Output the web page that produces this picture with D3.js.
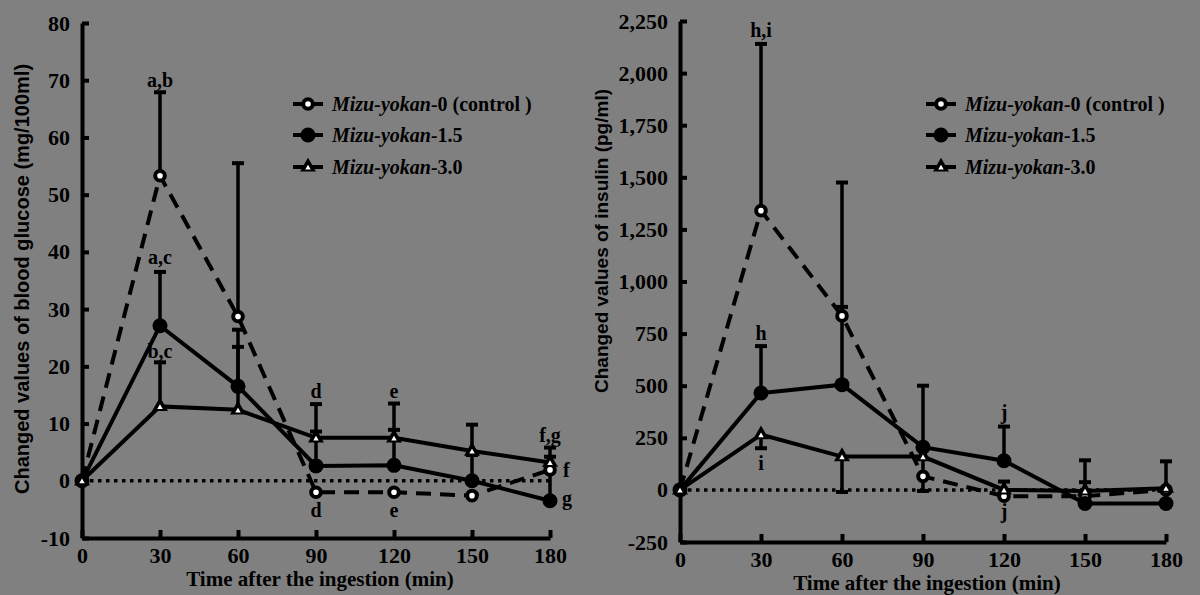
<!DOCTYPE html>
<html>
<head>
<meta charset="utf-8">
<script src="https://cdnjs.cloudflare.com/ajax/libs/d3/7.8.5/d3.min.js"></script>
<style>
  body { margin: 0; background: #808080; }
  svg { display: block; }
</style>
</head>
<body>
<svg id="chart"></svg>
<script>
// sampling times (min)
var times = [0, 30, 60, 90, 120, 150, 180];

// changed blood glucose (mg/100ml); err = signed length of the drawn error bar
var glucoseCtrl = [0, 53.3, 28.7, -2.0, -2.0, -2.6, 1.9];
var glucoseCtrlErr = [0, 14.6, 26.8, 0, 0, 0, 0];
var glucose15 = [0, 27.1, 16.5, 2.6, 2.7, 0.0, -3.5];
var glucose15Err = [0, 9.4, 9.9, 6.0, 6.2, 4.5, 7.7];
var glucose30 = [0, 13.0, 12.4, 7.5, 7.5, 5.2, 3.2];
var glucose30Err = [0, 7.7, 11.0, 5.9, 6.0, 4.6, 2.6];
var glucoseTicks = [-10, 0, 10, 20, 30, 40, 50, 60, 70, 80];
var glucoseNotes = [
  {t: 30, v: 68.8, label: "a,b"},
  {t: 30, v: 37.9, label: "a,c"},
  {t: 30, v: 21.5, label: "b,c"},
  {t: 90, v: 14.4, label: "d"},
  {t: 90, v: -6.3, label: "d"},
  {t: 120, v: 14.4, label: "e"},
  {t: 120, v: -6.3, label: "e"},
  {t: 180, v: 6.8, label: "f,g"},
  {t: 186.3, v: 0.7, label: "f"},
  {t: 186.5, v: -4.2, label: "g"}
];

// changed insulin (pg/ml)
var insulinCtrl = [0, 1340, 835, 65, -30, -30, 0];
var insulinCtrlErr = [0, 800, 640, 0, 0, 0, 0];
var insulin15 = [0, 465, 505, 205, 140, -65, -65];
var insulin15Err = [0, 225, 373, 295, 164, 207, 202];
var insulin30 = [0, 265, 160, 160, 0, -5, 8];
var insulin30Err = [0, -65, -170, -165, 40, 42, 0];
var insulinTicks = [-250, 0, 250, 500, 750, 1000, 1250, 1500, 1750, 2000, 2250];
var insulinNotes = [
  {t: 30, v: 2173, label: "h,i"},
  {t: 30, v: 719, label: "h"},
  {t: 30, v: 95, label: "i"},
  {t: 120, v: 340, label: "j"},
  {t: 120, v: -135, label: "j"}
];

var timeTicks = [0, 30, 60, 90, 120, 150, 180];
var seriesNames = ["Mizu-yokan-", "Mizu-yokan-", "Mizu-yokan-"];
var seriesSuffix = ["0 (control )", "1.5", "3.0"];
var seriesKinds = ["open", "filled", "tri"];

var width = 1200, height = 595;
var serif = "'Liberation Serif', 'Times New Roman', serif";
var sans = "'Liberation Sans', Arial, sans-serif";
var fmt = d3.formatLocale({decimal: ".", thousands: ",", grouping: [3], currency: ["", ""], minus: "-"}).format(",");

var svg = d3.select("#chart").attr("width", width).attr("height", height);
svg.append("rect").attr("width", width).attr("height", height).attr("fill", "#808080");

function drawMarker(g, kind, x, y) {
  if (kind == "open") {
    g.append("circle").attr("cx", x).attr("cy", y).attr("r", 4.8)
      .attr("fill", "#fff").attr("stroke", "#000").attr("stroke-width", 4);
  } else if (kind == "filled") {
    g.append("circle").attr("cx", x).attr("cy", y).attr("r", 7.5).attr("fill", "#000");
  } else {
    g.append("path").attr("d", d3.symbol(d3.symbolTriangle, 16 * 16 * Math.sqrt(3) / 4)())
      .attr("transform", "translate(" + x + "," + y + ")").attr("fill", "#000");
    g.append("path").attr("d", d3.symbol(d3.symbolTriangle, 5.5 * 5.5 * Math.sqrt(3) / 4)())
      .attr("transform", "translate(" + x + "," + (y + 1) + ")").attr("fill", "#fff");
  }
}

function drawPanel(cfg) {
  var x = d3.scaleLinear().domain([0, 180]).range(cfg.xRange);
  var y = d3.scaleLinear().domain(cfg.yDomain).range(cfg.yRange);
  var g = svg.append("g");

  // zero line
  g.append("line")
    .attr("x1", x(0)).attr("x2", x(180)).attr("y1", y(0)).attr("y2", y(0))
    .attr("stroke", "#000").attr("stroke-width", 3.5).attr("stroke-dasharray", "3.5,4.5");

  // axes
  var yAxis = d3.axisLeft(y).tickValues(cfg.yTicks).tickSizeInner(-7).tickSizeOuter(0)
    .tickPadding(12).tickFormat(cfg.yFormat);
  var gy = g.append("g").attr("transform", "translate(" + x(0) + ",0)").call(yAxis);
  var xAxis = d3.axisBottom(x).tickValues(timeTicks).tickSizeInner(-8).tickSizeOuter(0)
    .tickPadding(9);
  var gx = g.append("g").attr("transform", "translate(0," + cfg.yRange[0] + ")").call(xAxis);
  [gx, gy].forEach(function(a) {
    a.select(".domain").attr("stroke", "#000").attr("stroke-width", 4);
    a.selectAll(".tick line").attr("stroke", "#000").attr("stroke-width", 4);
    a.selectAll(".tick text").attr("fill", "#000")
      .style("font-family", serif).style("font-size", "22px").style("font-weight", "bold");
  });

  // axis titles
  g.append("text")
    .attr("x", (cfg.xRange[0] + cfg.xRange[1]) / 2 + 4).attr("y", cfg.yRange[0] + 48)
    .attr("text-anchor", "middle")
    .style("font-family", serif).style("font-size", "21px").style("font-weight", "bold")
    .text("Time after the ingestion (min)");
  g.append("text")
    .attr("transform", "translate(" + cfg.yTitlePos[0] + "," + cfg.yTitlePos[1] + ") rotate(-90)")
    .attr("text-anchor", "middle")
    .style("font-family", sans).style("font-size", cfg.yTitleSize + "px").style("font-weight", "bold")
    .text(cfg.yTitle);

  // lines
  var line = d3.line().x(function(d, i) { return x(times[i]); }).y(function(d) { return y(d); });
  cfg.series.forEach(function(s, k) {
    g.append("path").datum(s.values).attr("d", line)
      .attr("fill", "none").attr("stroke", "#000").attr("stroke-width", 4)
      .attr("stroke-dasharray", k == 0 ? "15,9" : null);
  });

  // error bars
  cfg.series.forEach(function(s) {
    s.values.forEach(function(v, i) {
      var e = s.err[i];
      if (!e) return;
      var px = x(times[i]);
      g.append("line").attr("x1", px).attr("x2", px).attr("y1", y(v)).attr("y2", y(v + e))
        .attr("stroke", "#000").attr("stroke-width", 3.5);
      g.append("line").attr("x1", px - 6).attr("x2", px + 6).attr("y1", y(v + e)).attr("y2", y(v + e))
        .attr("stroke", "#000").attr("stroke-width", 4);
    });
  });

  // markers
  cfg.series.forEach(function(s, k) {
    s.values.forEach(function(v, i) {
      drawMarker(g, seriesKinds[k], x(times[i]), y(v));
    });
  });

  // significance letters
  g.selectAll("text.note").data(cfg.notes).enter().append("text")
    .attr("class", "note")
    .attr("x", function(d) { return x(d.t); })
    .attr("y", function(d) { return y(d.v); })
    .attr("text-anchor", "middle")
    .style("font-family", serif).style("font-size", "20px").style("font-weight", "bold")
    .text(function(d) { return d.label; });

  // legend
  var rowY = [104, 135, 167];
  seriesKinds.forEach(function(kind, k) {
    var lx = cfg.legendX;
    g.append("line").attr("x1", lx).attr("x2", lx + 30).attr("y1", rowY[k]).attr("y2", rowY[k])
      .attr("stroke", "#000").attr("stroke-width", 4);
    drawMarker(g, kind, lx + 15, rowY[k]);
    var t = g.append("text").attr("x", lx + 39).attr("y", rowY[k] + 6.5)
      .style("font-family", serif).style("font-size", "20px").style("font-weight", "bold");
    t.append("tspan").style("font-style", "italic").text(seriesNames[k]);
    t.append("tspan").text(seriesSuffix[k]);
  });
}

drawPanel({
  xRange: [82, 550],
  yDomain: [-10, 80],
  yRange: [538, 23],
  yTicks: glucoseTicks,
  yFormat: function(d) { return String(d); },
  yTitle: "Changed values of blood glucose (mg/100ml)",
  yTitleSize: 20,
  yTitlePos: [29, 279],
  legendX: 293,
  notes: glucoseNotes,
  series: [
    {values: glucoseCtrl, err: glucoseCtrlErr},
    {values: glucose15, err: glucose15Err},
    {values: glucose30, err: glucose30Err}
  ]
});

drawPanel({
  xRange: [680, 1166],
  yDomain: [-250, 2250],
  yRange: [542, 21],
  yTicks: insulinTicks,
  yFormat: fmt,
  yTitle: "Changed values of insulin (pg/ml)",
  yTitleSize: 19,
  yTitlePos: [608, 241],
  legendX: 926,
  notes: insulinNotes,
  series: [
    {values: insulinCtrl, err: insulinCtrlErr},
    {values: insulin15, err: insulin15Err},
    {values: insulin30, err: insulin30Err}
  ]
});
</script>
</body>
</html>
